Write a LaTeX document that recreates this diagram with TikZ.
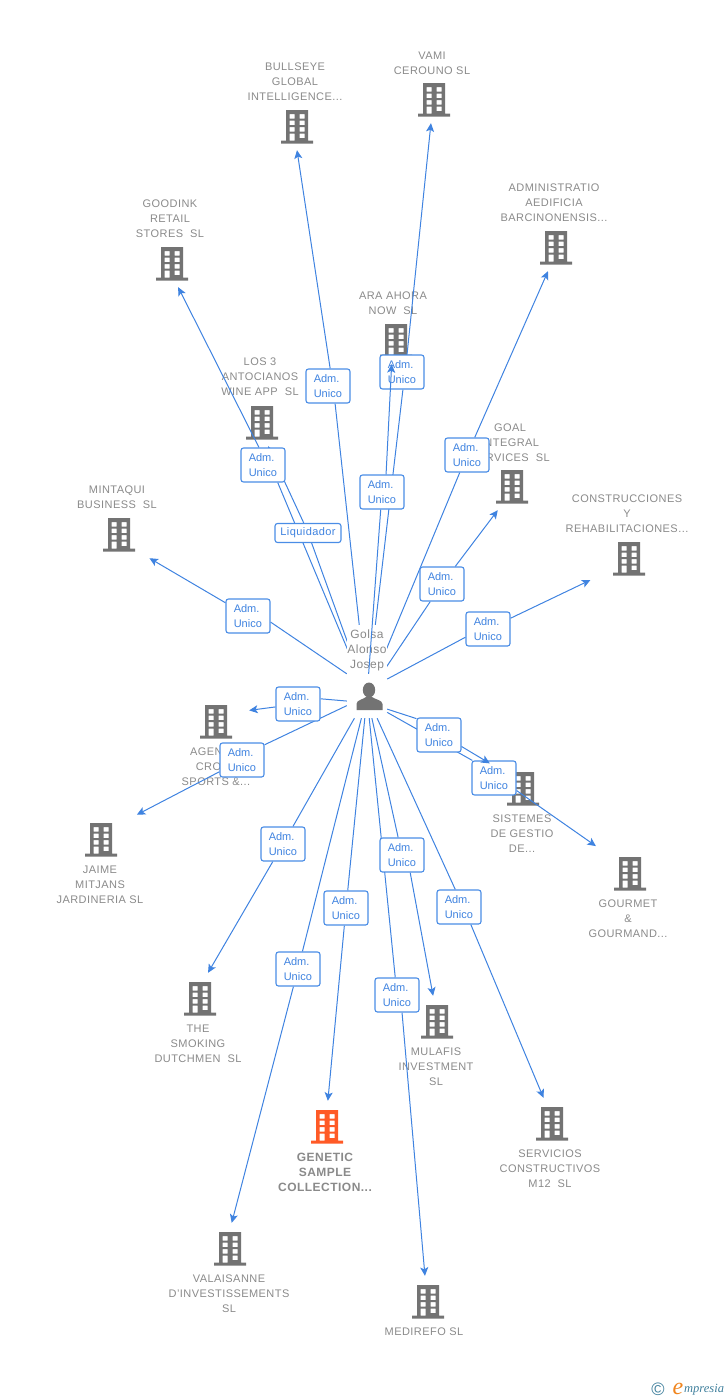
\documentclass[tikz,border=0pt]{standalone}
\usepackage{fontspec}
\setmainfont[LetterSpace=4]{Liberation Sans}
\newfontfamily\tagfont{Liberation Sans}
\newfontfamily\logofont{Liberation Serif}
\usetikzlibrary{arrows.meta}
\definecolor{linkblue}{HTML}{3F83E0}
\definecolor{tagblue}{HTML}{4A8DE6}
\definecolor{icongray}{HTML}{737373}
\definecolor{textgray}{HTML}{8A8A8A}
\definecolor{iconorange}{HTML}{FF5A26}
\definecolor{logoteal}{HTML}{3F7F9C}
\definecolor{logoorange}{HTML}{F0851E}
\newcommand{\admtag}{Adm.\\Unico}
\pgfdeclarelayer{tags}
\pgfsetlayers{main,tags}
\tikzset{
  building/.style={minimum width=66pt,minimum height=49pt,inner sep=0pt,
    path picture={\fill [#1,even odd rule,shift={(path picture bounding box.center)}]
      (-11,-15.5) rectangle (11,15) (-16,15) rectangle (16,18)
      (-7.5,-11.5) rectangle (-2.5,-7) (2.5,-11.5) rectangle (7.5,-7)
      (-7.5,-5) rectangle (-2.5,-0.5) (2.5,-5) rectangle (7.5,-0.5)
      (-7.5,1.5) rectangle (-2.5,6) (2.5,1.5) rectangle (7.5,6)
      (2.5,8) rectangle (7.5,12.5) (-7.5,8) rectangle (-2.5,15);}},
  building/.default=icongray,
  company/.style={text=textgray,align=center,inner sep=0pt,yshift=-1pt,font=\fontsize{11}{15}\selectfont},
  tagbox/.style={draw=tagblue,fill=white,line width=1.1pt,rounded corners=2.5pt,text=linkblue,
    align=left,text width=28.5pt,inner sep=0pt,minimum width=44pt,minimum height=34pt,
    font=\tagfont\fontsize{11}{15}\selectfont},
  link/.style={draw=linkblue,line width=1pt,-{Stealth[length=8.5pt,width=8pt,inset=2pt]}}
}
\begin{document}
\begin{tikzpicture}[x=1pt,y=-1pt]
\useasboundingbox (0,0) rectangle (728,1400);
\node [building] (bullseye) at (297,125.5) {};
\node [building] (vami) at (434,98.5) {};
\node [building] (goodink) at (172,262.5) {};
\node [building] (aedificia) at (556,246.5) {};
\node [building] (ara) at (396,339.5) {};
\node [building] (antocianos) at (262,421.5) {};
\node [building] (goal) at (512,485.5) {};
\node [building] (construcciones) at (629,557.5) {};
\node [building] (mintaqui) at (119,533.5) {};
\node [building] (agen) at (216,720.5) {};
\node [building] (sistemes) at (523,787.5) {};
\node [building] (gourmet) at (630,872.5) {};
\node [building] (jaime) at (101,838.5) {};
\node [building] (smoking) at (200,997.5) {};
\node [building] (mulafis) at (437,1020.5) {};
\node [building=iconorange] (genetic) at (327,1125.5) {};
\node [building] (servicios) at (552,1122.5) {};
\node [building] (valaisanne) at (230,1247.5) {};
\node [building] (medirefo) at (428,1300.5) {};

\node [company] (bullseyename) at (295,81) {BULLSEYE\\GLOBAL\\INTELLIGENCE...};
\node [company] (vaminame) at (432,62.5) {VAMI\\CEROUNO SL};
\node [company] (goodinkname) at (170,218) {GOODINK\\RETAIL\\STORES~~SL};
\node [company] (aedificianame) at (554,202) {ADMINISTRATIO\\AEDIFICIA\\BARCINONENSIS...};
\node [company] (araname) at (393,302.5) {ARA AHORA\\NOW~~SL};
\node [company] (antocianosname) at (260,376) {LOS 3\\ANTOCIANOS\\WINE APP~~SL};
\node [company] (goalname) at (510,442) {GOAL\\INTEGRAL\\SERVICES~~SL};
\node [company] (construccionesname) at (627,513) {CONSTRUCCIONES\\Y\\REHABILITACIONES...};
\node [company] (mintaquiname) at (117,496.5) {MINTAQUI\\BUSINESS~~SL};
\node [company] (agenname) at (216,766) {AGEN\phantom{CIA}\\CRO\phantom{SS}\\SPORTS \&...};
\node [company] (sistemesname) at (522,833) {SISTEMES\\DE GESTIO\\DE...};
\node [company] (gourmetname) at (628,918) {GOURMET\\\&\\GOURMAND...};
\node [company] (jaimename) at (100,884) {JAIME\\MITJANS\\JARDINERIA SL};
\node [company] (smokingname) at (198,1043) {THE\\SMOKING\\DUTCHMEN~~SL};
\node [company] (mulafisname) at (436,1066) {MULAFIS\\INVESTMENT\\SL};
\node [company,font=\bfseries\fontsize{12}{15}\selectfont] (geneticname) at (325,1171) {GENETIC\\SAMPLE\\COLLECTION...};
\node [company] (serviciosname) at (550,1168) {SERVICIOS\\CONSTRUCTIVOS\\M12~~SL};
\node [company] (valaisannename) at (229,1293) {VALAISANNE\\D'INVESTISSEMENTS\\SL};
\node [company] (medirefoname) at (424,1331) {MEDIREFO SL};

\node [minimum width=40pt,minimum height=44pt,inner sep=0pt,
  path picture={\fill [icongray,shift={(path picture bounding box.center)}]
    (2,-6) ellipse (6.2 and 7.5)
    (-10.5,14) -- (-10.5,8) .. controls (-10.5,4) and (-4,3.5) .. (-1,1) -- (5,1)
    .. controls (8,3.5) and (15.5,4) .. (15.5,8) -- (15.5,14) -- cycle;}] (person) at (367,696) {};

\begin{pgfonlayer}{tags}
\node [tagbox] (bullseyetag) at (328,386) {\admtag};
\node [tagbox] (vamitag) at (402,372) {\admtag};
\node [tagbox] (aratag) at (382,492) {\admtag};
\node [tagbox] (goodinktag) at (263,465) {\admtag};
\node [tagbox,text width=,align=center,minimum width=66pt,minimum height=19pt,
  font=\tagfont\addfontfeature{LetterSpace=4}\fontsize{11}{15}\selectfont] (antocianostag) at (308,533) {Liquidador};
\node [tagbox] (aedificiatag) at (467,455) {\admtag};
\node [tagbox] (goaltag) at (442,584) {\admtag};
\node [tagbox] (construccionestag) at (488,629) {\admtag};
\node [tagbox] (mintaquitag) at (248,616) {\admtag};
\node [tagbox] (agentag) at (298,704) {\admtag};
\node [tagbox] (jaimetag) at (242,760) {\admtag};
\node [tagbox] (sistemestag) at (439,735) {\admtag};
\node [tagbox] (gourmettag) at (494,778) {\admtag};
\node [tagbox] (smokingtag) at (283,844) {\admtag};
\node [tagbox] (medirefotag) at (397,995) {\admtag};
\node [tagbox] (mulafistag) at (402,855) {\admtag};
\node [tagbox] (genetictag) at (346,908) {\admtag};
\node [tagbox] (serviciostag) at (459,907) {\admtag};
\node [tagbox] (valaisannetag) at (298,969) {\admtag};
\node [fill=white,inner sep=0pt,minimum width=40pt,minimum height=50pt,text=textgray,align=center,
  font=\fontsize{12}{15}\selectfont] (personname) at (367,650) {Golsa\\Alonso\\Josep};
\draw [link] (person) -- (aratag) (aratag.77) -- (ara.260);
\draw [link] (person.327) -- (sistemestag.144) (sistemestag.333) -- (sistemes.144);
\end{pgfonlayer}

\draw [link] (person) -- (bullseyetag.292) (bullseyetag.83) -- (bullseye.270);
\draw [link] (person) -- (vamitag.273) (vamitag.74) -- (vami.263);
\draw [link] (person) -- (goodinktag.310) (goodinktag.103) -- (goodink.284);
\draw [link] (person) -- (antocianostag) (antocianostag.113) -- (antocianos.284);
\draw [link] (person) -- (aedificiatag) -- (aedificia.252);
\draw [link] (person) -- (goaltag) -- (goal.240);
\draw [link,shorten >=6pt] (person.40) -- (construccionestag.200) (construccionestag) -- (construcciones.211);
\draw [link] (person.north west) -- (mintaquitag.345) (mintaquitag) -- (mintaqui.321);
\draw [link] (person.194) -- (agentag.13) (agentag) -- (agen.17);
\draw [link,shorten >=3pt] (person) -- (jaimetag.34) (jaimetag) -- (jaime.34);
\draw [link,shorten >=3pt] (person.321) -- (gourmettag.141) (gourmettag.331) -- (gourmet.142);
\draw [link] (person) -- (smokingtag) -- (smoking.72);
\draw [link] (person) -- (medirefotag) (medirefotag.286) -- (medirefo.97);
\draw [link] (person) -- (mulafistag) (mulafistag.295) -- (mulafis.99);
\draw [link] (person) -- (genetictag) -- (genetic.88);
\draw [link] (person) -- (serviciostag.102) (serviciostag.304) -- (servicios.109);
\draw [link] (person) -- (valaisannetag) -- (valaisanne.86);

\node [text=logoteal,inner sep=0pt,font=\tagfont\fontsize{18}{18}\selectfont] (logomark) at (658,1389) {©};
\node [text=logoorange,inner sep=0pt,font=\logofont\itshape\fontsize{24}{24}\selectfont] (logoe) at (678,1389) {e};
\node [anchor=west,text=logoteal,inner sep=0pt,font=\logofont\itshape\fontsize{12.5}{13}\selectfont] (logoname) at (684,1390) {mpresia};
\end{tikzpicture}
\end{document}
